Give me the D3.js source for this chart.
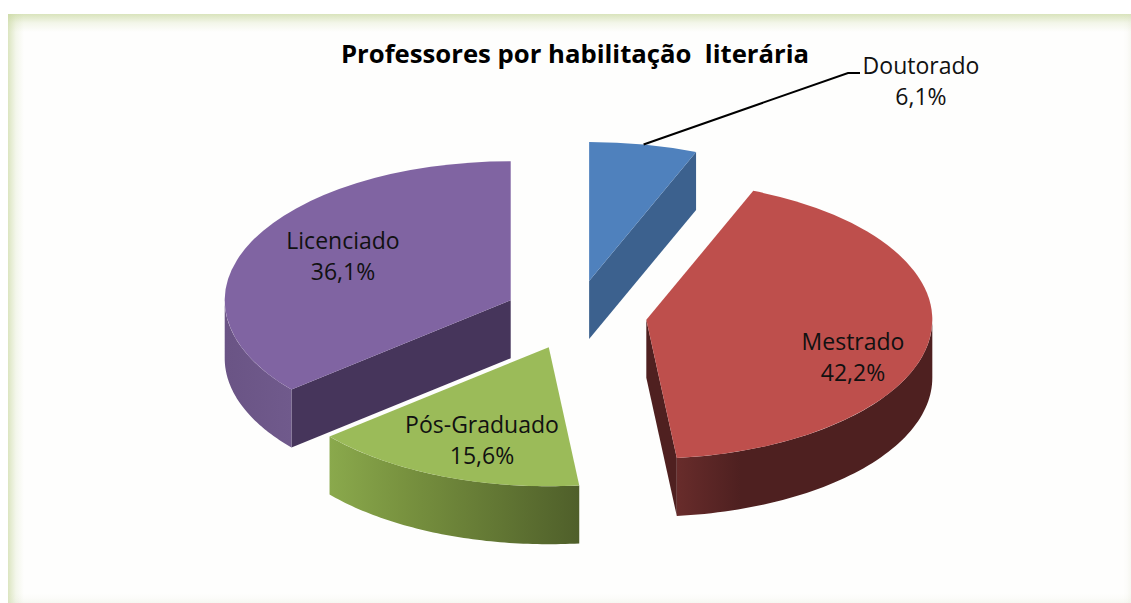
<!DOCTYPE html>
<html>
<head>
<meta charset="utf-8">
<script src="https://cdnjs.cloudflare.com/ajax/libs/d3/7.8.5/d3.min.js"></script>
<style>
html, body { margin: 0; padding: 0; background: #fff; }
svg { display: block; }
text { font-family: "Open Sans", sans-serif; fill: #111; }
</style>
</head>
<body>
<script>
var categories = ['Doutorado', 'Mestrado', 'Pós-Graduado', 'Licenciado'];
var percents = [6.1, 42.2, 15.6, 36.1];
var percentLabels = ['6,1%', '42,2%', '15,6%', '36,1%'];
var topColors = ['#4f81bd', '#be4f4c', '#9bbb59', '#8064a2'];
var cutColors = ['#3c618e', '#4f2020', '#4f5f2a', '#46355b'];
var rimStops = [
    [[0, '#3c618e'], [1, '#3c618e']],
    [[0, '#682c2b'], [0.25, '#4e2020'], [1, '#4e2020']],
    [[0, '#8aa94c'], [0.3, '#78923f'], [1, '#4f5f2a']],
    [[0, '#6a5485'], [1, '#705a8c']]
];

var width = 1131, height = 603;
var cx = 575.5, cy = 315;
var rx = 286, ry = 139, depth = 58, explode = 71.5;

var svg = d3.select('body').append('svg')
    .attr('width', width)
    .attr('height', height);
var defs = svg.append('defs');

// panel with the faint green glow along its edges
function edgeGradient(id, x2, y2, color, opacity) {
    var g = defs.append('linearGradient').attr('id', id)
        .attr('x1', x2 < 0 ? 1 : 0).attr('y1', y2 < 0 ? 1 : 0)
        .attr('x2', x2 < 0 ? 0 : x2).attr('y2', y2 < 0 ? 0 : y2);
    g.append('stop').attr('offset', 0).attr('stop-color', color).attr('stop-opacity', opacity);
    g.append('stop').attr('offset', 0.5).attr('stop-color', color).attr('stop-opacity', opacity * 0.3);
    g.append('stop').attr('offset', 1).attr('stop-color', color).attr('stop-opacity', 0);
}
edgeGradient('edgeTop', 0, 1, '#c9d8a0', 0.7);
edgeGradient('edgeLeft', 1, 0, '#c9d8a0', 0.65);
edgeGradient('edgeBottom', 0, -1, '#d8dcc4', 0.2);
edgeGradient('edgeRight', -1, 0, '#d8dcc4', 0.2);

svg.append('rect').attr('x', 8).attr('y', 14).attr('width', width - 8).attr('height', height - 14)
    .attr('fill', '#fefefd');
svg.append('rect').attr('x', 8).attr('y', 14).attr('width', width - 8).attr('height', 18)
    .attr('fill', 'url(#edgeTop)');
svg.append('rect').attr('x', 8).attr('y', 14).attr('width', 16).attr('height', height - 14)
    .attr('fill', 'url(#edgeLeft)');
svg.append('rect').attr('x', 8).attr('y', height - 10).attr('width', width - 8).attr('height', 10)
    .attr('fill', 'url(#edgeBottom)');
svg.append('rect').attr('x', width - 8).attr('y', 14).attr('width', 8).attr('height', height - 14)
    .attr('fill', 'url(#edgeRight)');

var pie = d3.pie().sort(null).startAngle(0).endAngle(2 * Math.PI);
var slices = pie(percents);
var arc = d3.arc().innerRadius(0).outerRadius(rx);
var line = d3.line();

function rimPoint(s, angle, drop) {
    return [s.cx + rx * Math.sin(angle), s.cy - ry * Math.cos(angle) + drop];
}

slices.forEach(function(s) {
    var mid = (s.startAngle + s.endAngle) / 2;
    s.cx = cx + explode * Math.sin(mid);
    s.cy = cy - explode * (ry / rx) * Math.cos(mid);
    s.mid = mid;
});

var groups = svg.selectAll('g.slice').data(slices).enter().append('g').attr('class', 'slice');

groups.each(function(s, i) {
    var g = d3.select(this);

    // cut faces that look towards the viewer
    [s.startAngle, s.endAngle].forEach(function(angle, k) {
        var sinA = Math.sin(angle);
        var facing = k === 0 ? sinA < -1e-6 : sinA > 1e-6;
        if (!facing) return;
        var edge = rimPoint(s, angle, 0), edgeLow = rimPoint(s, angle, depth);
        g.append('path')
            .attr('d', line([[s.cx, s.cy], edge, edgeLow, [s.cx, s.cy + depth]]) + 'Z')
            .attr('fill', cutColors[i]);
    });

    // outer wall, only the stretch on the front half of the ellipse
    var from = Math.max(s.startAngle, Math.PI / 2);
    var to = Math.min(s.endAngle, 3 * Math.PI / 2);
    if (to > from) {
        var steps = d3.range(0, 61).map(function(n) { return from + (to - from) * n / 60; });
        var upper = steps.map(function(a) { return rimPoint(s, a, 0); });
        var lower = steps.slice().reverse().map(function(a) { return rimPoint(s, a, depth); });
        var id = 'rim' + i;
        var grad = defs.append('linearGradient').attr('id', id)
            .attr('x1', 0).attr('y1', 0).attr('x2', 1).attr('y2', 0);
        rimStops[i].forEach(function(st) {
            grad.append('stop').attr('offset', st[0]).attr('stop-color', st[1]);
        });
        g.append('path')
            .attr('d', line(upper.concat(lower)) + 'Z')
            .attr('fill', 'url(#' + id + ')');
    }

    // top face: flat arc squashed into the ellipse
    g.append('path')
        .attr('d', arc(s))
        .attr('transform', 'translate(' + s.cx + ',' + s.cy + ') scale(1,' + (ry / rx) + ')')
        .attr('fill', topColors[i]);
});

// leader line for the first slice
var leaderStart = rimPoint(slices[0], slices[0].mid, 0);
svg.append('path')
    .attr('d', line([leaderStart, [848, 73], [860, 73]]))
    .attr('fill', 'none')
    .attr('stroke', '#000')
    .attr('stroke-width', 2);

var labelPos = [[921, 74], [853, 350], [482, 433], [343, 249]];
var labelSize = 23;
categories.forEach(function(name, i) {
    var t = svg.append('text')
        .attr('text-anchor', 'middle')
        .style('font-size', labelSize + 'px');
    t.append('tspan').attr('x', labelPos[i][0]).attr('y', labelPos[i][1]).text(name);
    t.append('tspan').attr('x', labelPos[i][0]).attr('y', labelPos[i][1] + 31).text(percentLabels[i]);
});

svg.append('text')
    .attr('x', 575)
    .attr('y', 63)
    .attr('text-anchor', 'middle')
    .style('font-size', '25.7px')
    .style('font-weight', 700)
    .style('white-space', 'pre')
    .style('fill', '#000')
    .text('Professores por habilitação  literária');
</script>
</body>
</html>
